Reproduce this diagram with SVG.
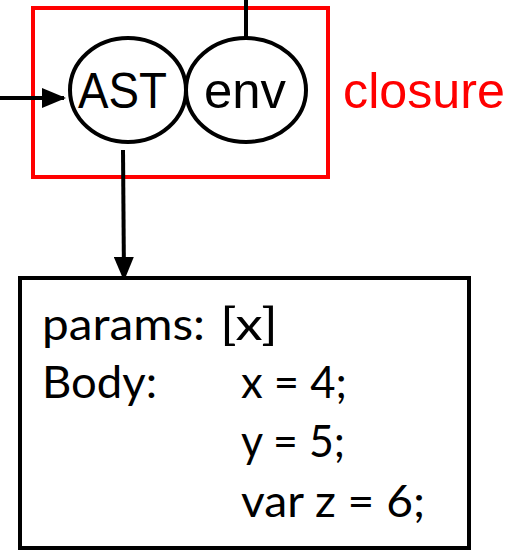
<svg xmlns="http://www.w3.org/2000/svg" width="527" height="551" viewBox="0 0 527 551">
  <style>
    .ell { fill: #ffffff; stroke: #000000; stroke-width: 4; }
    .lbl { font-family: "Liberation Sans", Arial, sans-serif; font-size: 50px; fill: #000000; }
    .code { font-family: Lato, "Open Sans", sans-serif; font-size: 45px; fill: #000000; }
    .wire { stroke: #000000; stroke-width: 4; fill: none; }
  </style>
  <defs>
    <marker id="arrow" markerWidth="6" markerHeight="5" refX="5.5" refY="2.5" orient="auto" markerUnits="strokeWidth">
      <path d="M0,0 L6,2.5 L0,5 Z" fill="#000000"/>
    </marker>
  </defs>
  <rect width="527" height="551" fill="#ffffff"/>

  <!-- closure frame -->
  <g id="closure">
    <rect x="33" y="8" width="295" height="169" fill="none" stroke="#ff0000" stroke-width="4"/>
    <text x="343" y="108" font-family="Liberation Sans, Arial, sans-serif" font-size="50" fill="#ff0000" textLength="162" lengthAdjust="spacingAndGlyphs">closure</text>
  </g>

  <!-- connectors -->
  <g id="connectors">
    <line class="wire" x1="246" y1="0" x2="246" y2="38"/>
    <line class="wire" x1="0" y1="98" x2="64" y2="98" marker-end="url(#arrow)"/>
    <line class="wire" x1="123" y1="150" x2="124" y2="279" marker-end="url(#arrow)"/>
  </g>

  <g id="ast">
    <ellipse class="ell" cx="128" cy="90" rx="58" ry="52"/>
    <text class="lbl" x="78" y="108" textLength="89" lengthAdjust="spacingAndGlyphs">AST</text>
  </g>

  <g id="env">
    <ellipse class="ell" cx="246" cy="90" rx="60" ry="52"/>
    <text class="lbl" x="204" y="108" textLength="82" lengthAdjust="spacingAndGlyphs">env</text>
  </g>

  <!-- function body record -->
  <g id="function">
    <rect x="20" y="278" width="449" height="270" fill="#ffffff" stroke="#000000" stroke-width="4"/>
    <text class="code" x="42" y="340" textLength="163" lengthAdjust="spacingAndGlyphs">params:</text>
    <text class="code" x="220" y="340" textLength="58" lengthAdjust="spacingAndGlyphs">[x]</text>
    <text class="code" x="42" y="398" textLength="115" lengthAdjust="spacingAndGlyphs">Body:</text>
    <text class="code" x="241" y="398" textLength="106" lengthAdjust="spacingAndGlyphs">x = 4;</text>
    <text class="code" x="241" y="457" textLength="104" lengthAdjust="spacingAndGlyphs">y = 5;</text>
    <text class="code" x="241" y="517" textLength="184" lengthAdjust="spacingAndGlyphs">var z = 6;</text>
  </g>
</svg>
